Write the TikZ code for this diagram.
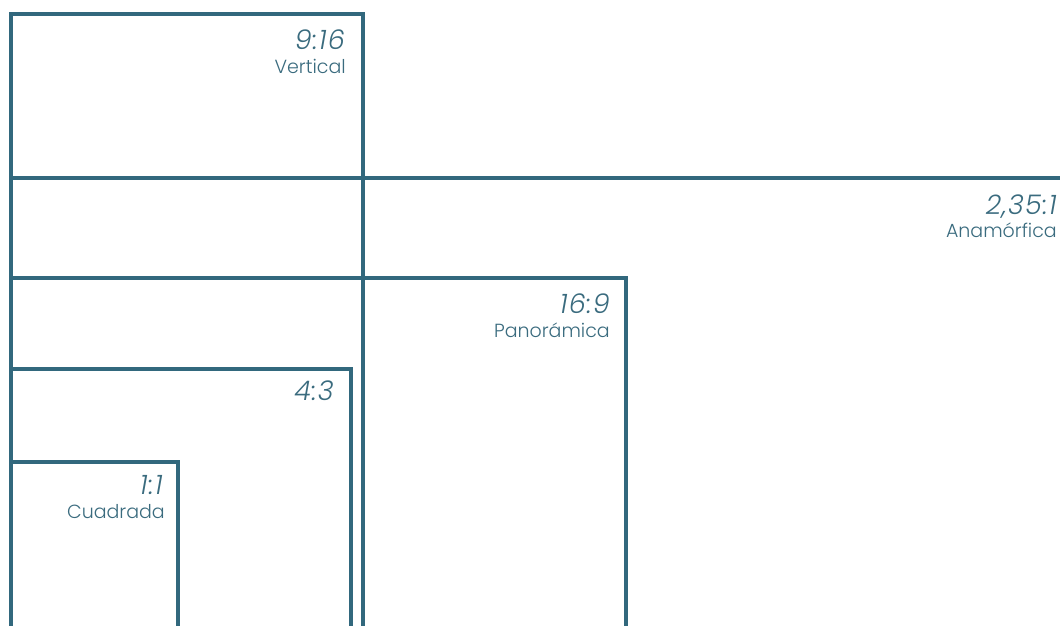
\documentclass[tikz,border=0pt]{standalone}
\usepackage{fontspec}
\setmainfont{Poppins}[UprightFont=* Light, ItalicFont=* Light Italic]
\definecolor{frame}{HTML}{32687D}
\definecolor{lbl}{HTML}{3A6B7E}
\tikzset{
  framebox/.style={draw=frame, line width=4pt, line join=miter},
  ratiolbl/.style={text=lbl, inner sep=0pt, anchor=base east, font=\fontsize{27}{29}\selectfont\itshape\addfontfeatures{LetterSpace=4}},
  namelbl/.style={text=lbl, inner sep=0pt, anchor=base east, font=\fontsize{19}{21}\selectfont}
}
\begin{document}
\begin{tikzpicture}[x=1pt,y=-1pt]
\useasboundingbox (0,0) rectangle (1060,625);
\clip (0,0) rectangle (1060,625);
% frames
\draw[framebox] (11,660) -- (11,14) -- (363,14) -- (363,660);
\draw[framebox] (11,178) -- (1080,178);
\draw[framebox] (11,278) -- (626,278) -- (626,660);
\draw[framebox] (11,369) -- (351,369) -- (351,660);
\draw[framebox] (11,462) -- (178,462) -- (178,660);
% labels
\node[ratiolbl] (r916) at (345,49) {9:16};
\node[namelbl]  (n916) at (346,73) {Vertical};
\node[ratiolbl] (r235) at (1057,214) {2,35:1};
\node[namelbl]  (n235) at (1057,237) {Anamórfica};
\node[ratiolbl] (r169) at (610,313) {16:9};
\node[namelbl]  (n169) at (610,337) {Panorámica};
\node[ratiolbl] (r43)  at (334,400) {4:3};
\node[ratiolbl] (r11)  at (163,494) {1:1};
\node[namelbl]  (n11)  at (165,518) {Cuadrada};
\end{tikzpicture}
\end{document}
